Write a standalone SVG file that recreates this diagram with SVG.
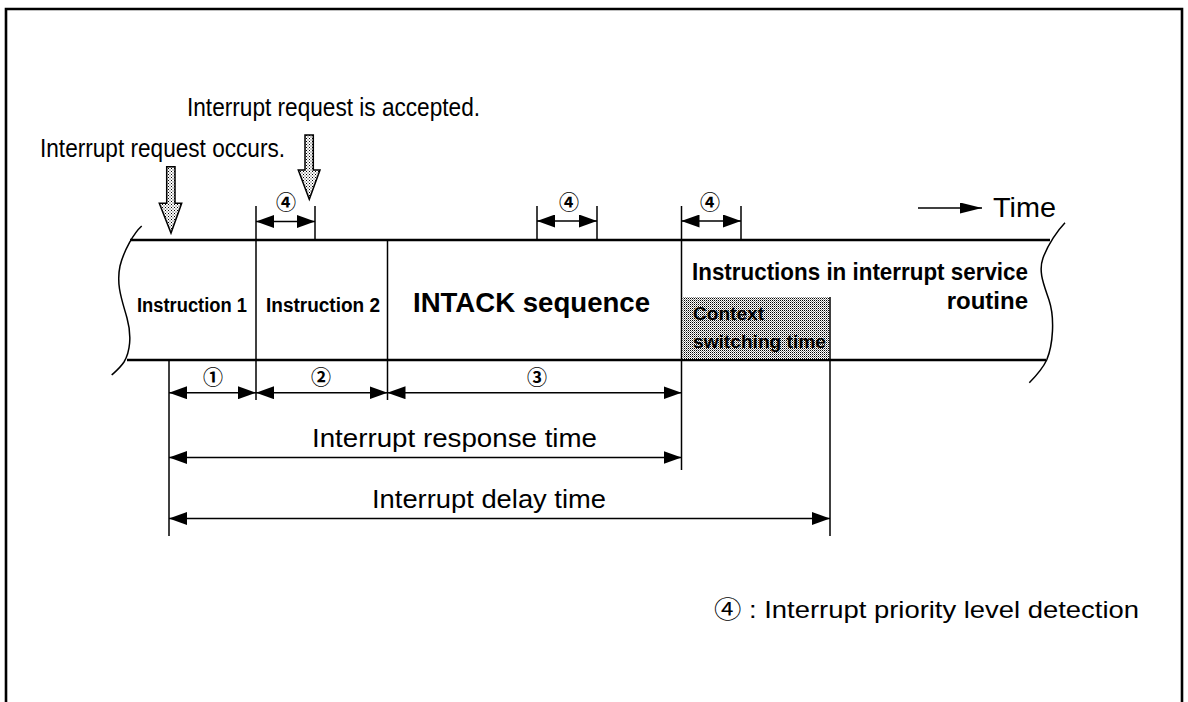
<svg xmlns="http://www.w3.org/2000/svg" width="1188" height="702" viewBox="0 0 1188 702">
<defs>
<pattern id="dots" width="2" height="2" patternUnits="userSpaceOnUse">
<rect width="2" height="2" fill="#fff"/>
<rect width="1" height="1" fill="#000"/>
<rect x="1" y="1" width="1" height="1" fill="#888"/>
</pattern>
<pattern id="dots2" width="3" height="3" patternUnits="userSpaceOnUse">
<rect width="3" height="3" fill="#fff"/>
<rect width="1" height="1" fill="#000"/>
<rect x="1.5" y="1.5" width="1" height="1" fill="#222"/>
</pattern>
<marker id="ah" markerUnits="userSpaceOnUse" markerWidth="18" markerHeight="13" refX="18" refY="6.5" orient="auto-start-reverse" viewBox="0 0 18 13">
<path d="M0,0 L18,6.5 L0,13 z" fill="#000"/>
</marker>
<marker id="ahs" markerUnits="userSpaceOnUse" markerWidth="22" markerHeight="11" refX="22" refY="5.5" orient="auto" viewBox="0 0 22 11">
<path d="M0,0 L22,5.5 L0,11 z" fill="#000"/>
</marker>
</defs>
<style>
.t{font-family:"Liberation Sans",Arial,"Noto Sans CJK JP",sans-serif;fill:#000}
.b{font-weight:bold}
.c{font-family:"Noto Sans CJK JP","DejaVu Sans",sans-serif;font-size:20px;font-weight:bold;text-anchor:middle;fill:#000}
.ln{stroke:#000;stroke-width:1.5;fill:none}
.thk{stroke:#000;stroke-width:2.6;fill:none}
.dim{stroke:#000;stroke-width:1.5;fill:none;marker-start:url(#ah);marker-end:url(#ah)}
.bigarrow{fill:url(#dots2);stroke:#000;stroke-width:1.5}
</style>
<rect width="1188" height="702" fill="#fff"/>
<path id="frame" d="M6,702 V9 H1182 V702" class="thk"/>

<g id="band">
<path d="M130,240 H1050" class="thk"/>
<path d="M127,360 H1046" class="thk"/>
<path d="M141.7,226 C134,233 124,250 120,266 C116,285 122,300 127,318 C132,336 130,352 124,362 C120,368 115,372 111.7,375" class="ln"/>
<path d="M1065,222.7 C1058,230 1048,244 1043,258 C1038,272 1044,285 1049,300 C1055,318 1053,345 1046.7,360 C1042,370 1034,378 1029.3,382.7" class="ln"/>
</g>

<g id="instruction1">
<text class="t b" x="137" y="311.5" font-size="20" textLength="110" lengthAdjust="spacingAndGlyphs">Instruction 1</text>
</g>
<g id="instruction2">
<path d="M256,206 V400" class="ln"/>
<text class="t b" x="266" y="311.5" font-size="20" textLength="114" lengthAdjust="spacingAndGlyphs">Instruction 2</text>
</g>
<g id="intack">
<path d="M387.5,240 V400" class="ln"/>
<text class="t b" x="413" y="311.5" font-size="28" textLength="237" lengthAdjust="spacingAndGlyphs">INTACK sequence</text>
</g>
<g id="isr">
<path d="M681.5,206 V470" class="ln"/>
<rect x="682.5" y="297" width="147" height="62" fill="url(#dots)"/>
<text class="t b" x="692" y="279.5" font-size="24" textLength="336" lengthAdjust="spacingAndGlyphs">Instructions in interrupt service</text>
<text class="t b" x="1028" y="308.5" font-size="24" text-anchor="end">routine</text>
<text class="t b" x="693" y="320" font-size="19" textLength="71" lengthAdjust="spacingAndGlyphs">Context</text>
<text class="t b" x="693" y="348" font-size="19" textLength="133" lengthAdjust="spacingAndGlyphs">switching time</text>
</g>

<g id="time-axis">
<path d="M918,208 H982" class="ln" stroke-width="3" marker-end="url(#ahs)"/>
<text class="t" x="993" y="216.5" font-size="28" textLength="63" lengthAdjust="spacingAndGlyphs">Time</text>
</g>

<g id="request-occurs">
<text class="t" x="40" y="157" font-size="26" textLength="245" lengthAdjust="spacingAndGlyphs">Interrupt request occurs.</text>
<path d="M166.7,166.7 H175 V203.3 H181.7 L171,233 L159.3,203.3 H166.7 z" class="bigarrow"/>
</g>
<g id="request-accepted">
<text class="t" x="187" y="116" font-size="26" textLength="293" lengthAdjust="spacingAndGlyphs">Interrupt request is accepted.</text>
<path d="M305,135 H313.3 V170 H320 L309.3,199.3 L298.3,170 H305 z" class="bigarrow"/>
</g>

<g id="connectors">
<path d="M169,360 V536" class="ln"/>
<path d="M830,297 V536" class="ln"/>
<path d="M315,206 V240" class="ln"/>
<path d="M537,206 V240" class="ln"/>
<path d="M597,206 V240" class="ln"/>
<path d="M741,206 V240" class="ln"/>
<path d="M256,221.5 H315" class="dim"/>
<path d="M537,221 H597" class="dim"/>
<path d="M681.5,221 H741" class="dim"/>
<path d="M169,392.7 H256" class="dim"/>
<path d="M256,392.7 H387.5" class="dim"/>
<path d="M387.5,392.7 H681.5" class="dim"/>
<path d="M169,457.5 H681.5" class="dim"/>
<path d="M169,518.5 H830" class="dim"/>
</g>

<g id="labels">
<text class="c" x="286" y="210">④</text>
<text class="c" x="569" y="209.5">④</text>
<text class="c" x="710" y="209.5">④</text>
<text class="c" x="213" y="384.5">①</text>
<text class="c" x="321" y="384.5">②</text>
<text class="c" x="537" y="384.5">③</text>
<text class="t" x="312" y="447" font-size="25" textLength="285" lengthAdjust="spacingAndGlyphs">Interrupt response time</text>
<text class="t" x="372" y="508" font-size="25" textLength="234" lengthAdjust="spacingAndGlyphs">Interrupt delay time</text>
</g>

<g id="legend">
<text class="t" x="714" y="618" font-size="24" textLength="425" lengthAdjust="spacingAndGlyphs">④ : Interrupt priority level detection</text>
</g>
</svg>
